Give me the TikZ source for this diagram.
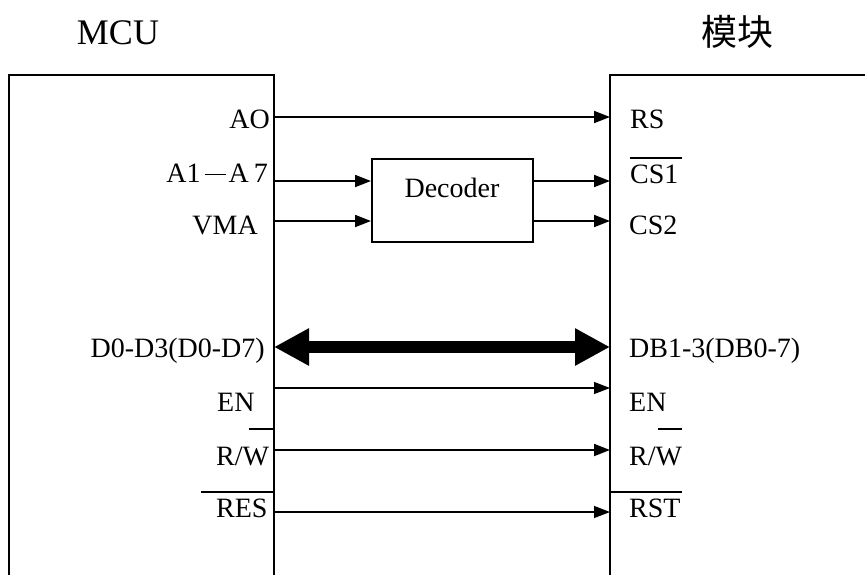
\documentclass[tikz,border=0pt]{standalone}
\usepackage{fontspec}
\setmainfont{Liberation Serif}
\newfontfamily\cjk{Noto Sans CJK SC}
\usetikzlibrary{arrows.meta}
\begin{document}
\begin{tikzpicture}[x=1pt,y=-1pt,
  lbl/.style={inner sep=0pt,font=\fontsize{28}{32}\selectfont},
  ttl/.style={inner sep=0pt,font=\fontsize{36}{40}\selectfont},
  boxline/.style={line width=2pt},
  sig/.style={line width=1.8pt,-{Triangle[length=16pt,width=12pt]}},
  thinsig/.style={line width=1.1pt,-{Triangle[length=16pt,width=12pt]}},
  bus/.style={line width=12pt,{Triangle[length=35pt,width=35pt]}-{Triangle[length=35pt,width=35pt]}},
  bar/.style={line width=1.6pt}]
\useasboundingbox (0,0) rectangle (865,574);
% titles
\node[ttl,anchor=base] (mcu) at (118,44) {MCU};
\node[ttl,anchor=base,font=\fontsize{36}{40}\selectfont\cjk] (mod) at (737,45) {模块};
% boxes
\draw[boxline] (9,576) -- (9,75) -- (274,75) -- (274,576);
\draw[boxline] (868,75) -- (610,75) -- (610,576);
% decoder
\node[draw,line width=1.6pt,minimum width=161pt,minimum height=83pt,inner sep=0pt,anchor=north west] (dec) at (371,158) {};
\node[lbl,anchor=base] (dect) at (452,197) {Decoder};
% left labels
\node[lbl,anchor=base east] (lA0) at (270,128) {AO};
\node[lbl,anchor=base east] (lA1) at (268,182) {A1\hspace{4pt}\rule[7pt]{21pt}{1pt}\hspace{3pt}A\hspace{5pt}7};
\node[lbl,anchor=base east] (lVMA) at (258,234) {VMA};
\node[lbl,anchor=base east] (lD) at (265,357) {D0-D3(D0-D7)};
\node[lbl,anchor=base west] (lEN) at (217,411) {EN};
\node[lbl,anchor=base west] (lRW) at (216,465) {R/W};
\node[lbl,anchor=base west] (lRES) at (216,517) {RES};
% right labels
\node[lbl,anchor=base west] (rRS) at (630,128) {RS};
\node[lbl,anchor=base west] (rCS1) at (630,183) {CS1};
\node[lbl,anchor=base west] (rCS2) at (629,234) {CS2};
\node[lbl,anchor=base west] (rDB) at (629,357) {DB1-3(DB0-7)};
\node[lbl,anchor=base west] (rEN) at (629,411) {EN};
\node[lbl,anchor=base west] (rRW) at (629,465) {R/W};
\node[lbl,anchor=base west] (rRST) at (629,517) {RST};
% overbars
\draw[bar] (630,158) -- (682,158);
\draw[bar] (249,429) -- (274,429);
\draw[bar] (201,492) -- (274,492);
\draw[bar] (658,429) -- (682,429);
\draw[bar] (610,492) -- (682,492);
% pin coordinates
\coordinate (pA0) at (274,117);
\coordinate (pA1) at (274,181);
\coordinate (pVMA) at (274,221);
\coordinate (pD) at (274,347);
\coordinate (pEN) at (274,388);
\coordinate (pRW) at (274,450);
\coordinate (pRES) at (274,512);
\coordinate (qRS) at (610,117);
\coordinate (qCS1) at (610,181);
\coordinate (qCS2) at (610,221);
\coordinate (qDB) at (610,347);
\coordinate (qEN) at (610,388);
\coordinate (qRW) at (610,450);
\coordinate (qRST) at (610,512);
% connectors
\draw[sig] (pA0) -- (qRS);
\draw[sig] (pA1) -- (pA1 -| dec.west);
\draw[sig] (pVMA) -- (pVMA -| dec.west);
\draw[sig] (qCS1 -| dec.east) -- (qCS1);
\draw[sig] (qCS2 -| dec.east) -- (qCS2);
\draw[bus] (pD) -- (qDB);
\draw[thinsig] (pEN) -- (qEN);
\draw[sig] (pRW) -- (qRW);
\draw[thinsig] (pRES) -- (qRST);
\end{tikzpicture}
\end{document}
